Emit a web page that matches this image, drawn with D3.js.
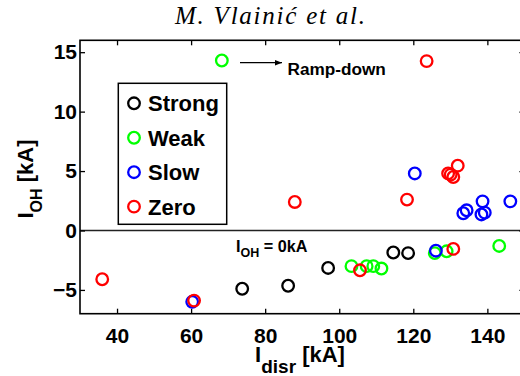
<!DOCTYPE html>
<html>
<head>
<meta charset="utf-8">
<script src="https://cdn.jsdelivr.net/npm/d3@7"></script>
<style>
  html, body { margin: 0; padding: 0; background: #fff; }
  svg { display: block; }
  text { font-family: "Liberation Sans", Arial, sans-serif; font-weight: bold; fill: #000; }
</style>
</head>
<body>
<svg id="chart" width="520" height="376"></svg>
<script>
// Disruption current vs. OH current at disruption, grouped by disruption type
const strongX = [73.8, 86.2, 97.0, 114.6, 118.6];
const strongY = [-4.9, -4.65, -3.15, -1.85, -1.9];

const weakX = [68.3, 103.3, 107.4, 109.2, 111.4, 125.8, 129.0, 143.2];
const weakY = [14.3, -3.0, -3.0, -3.0, -3.2, -1.9, -1.75, -1.3];

const slowX = [60.3, 120.4, 126.1, 133.5, 134.4, 138.4, 138.7, 139.3, 146.2];
const slowY = [-6.0, 4.8, -1.7, 1.45, 1.7, 1.35, 2.45, 1.5, 2.45];

const zeroX = [36.0, 60.8, 88.0, 105.6, 118.3, 123.6, 129.4, 130.1, 130.8, 132.0, 130.8];
const zeroY = [-4.1, -5.9, 2.4, -3.35, 2.6, 14.25, 4.8, 4.7, 4.5, 5.45, -1.55];

const seriesNames = ["Strong", "Weak", "Slow", "Zero"];
const seriesColors = ["#000000", "#00ff00", "#0000ff", "#ff0000"];

const xTicks = [40, 60, 80, 100, 120, 140];
const yTicks = [-5, 0, 5, 10, 15];

const series = [
  { name: seriesNames[0], color: seriesColors[0], xs: strongX, ys: strongY },
  { name: seriesNames[1], color: seriesColors[1], xs: weakX, ys: weakY },
  { name: seriesNames[2], color: seriesColors[2], xs: slowX, ys: slowY },
  { name: seriesNames[3], color: seriesColors[3], xs: zeroX, ys: zeroY }
];

const svg = d3.select("#chart");

const x = d3.scaleLinear().domain([30, 150]).range([80, 524.4]);
const y = d3.scaleLinear().domain([-7, 16]).range([313.7, 40.3]);

const [x0, x1] = x.range();
const [yb, yt] = y.range();

// Title
svg.append("text")
  .attr("x", 270).attr("y", 23.5)
  .attr("text-anchor", "middle")
  .style("font-family", "'Liberation Serif', 'Times New Roman', serif")
  .style("font-style", "italic")
  .style("font-weight", "normal")
  .style("font-size", "25px")
  .attr("textLength", 190)
  .attr("lengthAdjust", "spacing")
  .text("M. Vlainić et al.");

// Zero reference line
svg.append("line")
  .attr("x1", x0).attr("x2", x1)
  .attr("y1", y(0)).attr("y2", y(0))
  .attr("stroke", "#222").attr("stroke-width", 1.3);

// Axes with inward ticks on all four sides
const tickLen = 5;
const axisStyle = g => {
  g.select(".domain").remove();
  g.selectAll(".tick line").attr("stroke", "#000").attr("stroke-width", 1.3);
};

svg.append("g").attr("transform", `translate(0,${yb})`)
  .call(d3.axisBottom(x).tickValues(xTicks).tickSize(-tickLen).tickPadding(14).tickFormat(d3.format("d")))
  .call(axisStyle)
  .call(g => g.selectAll(".tick text").style("font-size", "21px").attr("dy", "0.71em"));

svg.append("g").attr("transform", `translate(0,${yt})`)
  .call(d3.axisTop(x).tickValues(xTicks).tickSize(-tickLen).tickFormat(""))
  .call(axisStyle);

svg.append("g").attr("transform", `translate(${x0},0)`)
  .call(d3.axisLeft(y).tickValues(yTicks).tickSize(-tickLen).tickPadding(3).tickFormat(d3.format("d")))
  .call(axisStyle)
  .call(g => g.selectAll(".tick text").style("font-size", "21px"));

svg.append("g").attr("transform", `translate(${x1},0)`)
  .call(d3.axisRight(y).tickValues(yTicks).tickSize(-tickLen).tickFormat(""))
  .call(axisStyle);

// Frame
svg.append("rect")
  .attr("x", x0).attr("y", yt)
  .attr("width", x1 - x0).attr("height", yb - yt)
  .attr("fill", "none").attr("stroke", "#000").attr("stroke-width", 1.6);

// Markers
const r = 5.8;
series.forEach(s => {
  svg.append("g").selectAll("circle")
    .data(s.xs.map((v, i) => [v, s.ys[i]]))
    .join("circle")
    .attr("cx", d => x(d[0]))
    .attr("cy", d => y(d[1]))
    .attr("r", r)
    .attr("fill", "none")
    .attr("stroke", s.color)
    .attr("stroke-width", 2.3);
});

// Ramp-down annotation
const defs = svg.append("defs");
defs.append("marker")
  .attr("id", "arrowhead")
  .attr("viewBox", "0 0 10 10")
  .attr("refX", 10).attr("refY", 5)
  .attr("markerWidth", 7).attr("markerHeight", 7)
  .attr("markerUnits", "userSpaceOnUse")
  .attr("orient", "auto")
  .append("path").attr("d", "M0,1 L10,5 L0,9 Z").attr("fill", "#000");

svg.append("line")
  .attr("x1", 240).attr("y1", 62.7)
  .attr("x2", 282).attr("y2", 62.7)
  .attr("stroke", "#000").attr("stroke-width", 1.2)
  .attr("marker-end", "url(#arrowhead)");

svg.append("text")
  .attr("x", 287.5).attr("y", 74.5)
  .style("font-size", "17.2px")
  .text("Ramp-down");

// I_OH = 0kA label
const zl = svg.append("text").attr("x", 236).attr("y", 251.5).style("font-size", "16.2px");
zl.append("tspan").text("I");
zl.append("tspan").attr("dy", 5.5).style("font-size", "12.5px").text("OH");
zl.append("tspan").attr("dy", -5.5).text(" = 0kA");

// Axis titles
const xt = svg.append("text").attr("x", 300).attr("y", 362).attr("text-anchor", "middle").style("font-size", "22px");
xt.append("tspan").text("I");
xt.append("tspan").attr("dy", 10.5).style("font-size", "19px").text("disr");
xt.append("tspan").attr("dy", -10.5).text(" [kA]");

const yTitle = svg.append("text")
  .attr("transform", "translate(33,179) rotate(-90)")
  .attr("text-anchor", "middle")
  .style("font-size", "22px");
yTitle.append("tspan").text("I");
yTitle.append("tspan").attr("dy", 9).style("font-size", "16px").text("OH");
yTitle.append("tspan").attr("dy", -9).text(" [kA]");

// Legend
const lg = svg.append("g");
lg.append("rect")
  .attr("x", 118.3).attr("y", 83.3)
  .attr("width", 108.4).attr("height", 141)
  .attr("fill", "#fff").attr("stroke", "#000").attr("stroke-width", 1.5);
series.forEach((s, i) => {
  const cy = 103.3 + i * 34.45;
  lg.append("circle")
    .attr("cx", 134).attr("cy", cy).attr("r", r)
    .attr("fill", "none").attr("stroke", s.color).attr("stroke-width", 2.3);
  lg.append("text")
    .attr("x", 148).attr("y", cy + 8)
    .style("font-size", "22px")
    .text(s.name);
});
</script>
</body>
</html>
